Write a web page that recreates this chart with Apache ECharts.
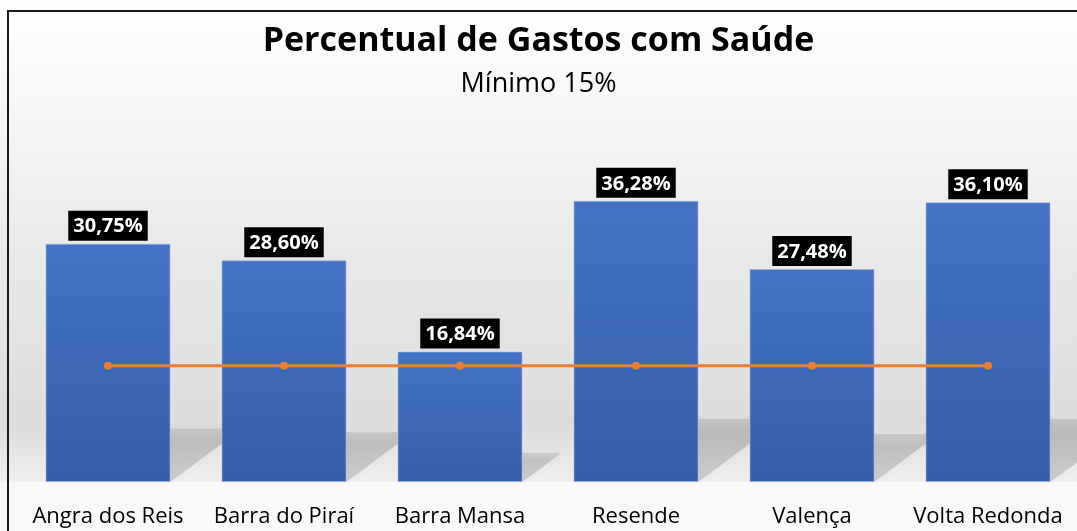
<!DOCTYPE html>
<html>
<head>
<meta charset="utf-8">
<script src="https://cdn.jsdelivr.net/npm/echarts@6/dist/echarts.min.js"></script>
<style>
  html, body { margin: 0; padding: 0; background: #fff; }
  #chart { width: 1077px; height: 531px; }
</style>
</head>
<body>
<div id="chart"></div>
<script>
const municipios = ["Angra dos Reis", "Barra do Piraí", "Barra Mansa", "Resende", "Valença", "Volta Redonda"];
const gastos = [30.75, 28.6, 16.84, 36.28, 27.48, 36.1];
const minimo = [15, 15, 15, 15, 15, 15];

let myChart = echarts.init(document.getElementById("chart"));
const fontFamily = "'Open Sans', sans-serif";
const barWidth = 125;

myChart.setOption({
  backgroundColor: new echarts.graphic.LinearGradient(0, 0, 0, 1, [
    { offset: 0, color: "#ffffff" },
    { offset: 0.2, color: "#f7f7f7" },
    { offset: 0.5, color: "#e8e8e8" },
    { offset: 0.8, color: "#dcdcdc" },
    { offset: 0.906, color: "#eeeeee" },
    { offset: 0.909, color: "#f8f8f8" },
    { offset: 1, color: "#f9f9f9" }
  ]),
  title: [
    {
      text: "Percentual de Gastos com Saúde",
      left: "center",
      top: 19,
      textStyle: { fontFamily: fontFamily, fontSize: 34, fontWeight: "bold", color: "#000" }
    },
    {
      text: "Mínimo 15%",
      left: "center",
      top: 66,
      textStyle: { fontFamily: fontFamily, fontSize: 27, fontWeight: "normal", color: "#000" }
    }
  ],
  graphic: [
    { type: "rect", shape: { x: 7, y: 10, width: 1070, height: 2 }, style: { fill: "#1a1a1a" }, z: 100 },
    { type: "rect", shape: { x: 7, y: 10, width: 2, height: 521 }, style: { fill: "#1a1a1a" }, z: 100 }
  ],
  grid: {
    left: 20,
    right: 1,
    top: 172,
    bottom: 49
  },
  xAxis: {
    type: "category",
    data: municipios,
    axisLine: { show: false },
    axisTick: { show: false },
    axisLabel: {
      interval: 0,
      margin: 24,
      color: "#000",
      fontFamily: fontFamily,
      fontSize: 22
    }
  },
  yAxis: {
    type: "value",
    min: 0,
    max: 40,
    show: false,
    splitLine: { show: false }
  },
  series: [
    {
      // sombra em perspectiva atrás das barras
      type: "custom",
      data: gastos.map((v, i) => [i, v]),
      z: 1,
      silent: true,
      renderItem: function (params, api) {
        let base = api.coord([api.value(0), 0]);
        let top = api.coord([api.value(0), api.value(1)]);
        let h = base[1] - top[1];
        let x0 = base[0] - barWidth / 2;
        let x1 = base[0] + barWidth / 2;
        let dx = h * 0.3;
        let dy = h * 0.225;
        return {
          type: "polygon",
          shape: {
            points: [
              [x0, base[1]],
              [x1, base[1]],
              [x1 + dx, base[1] - dy],
              [x0 + dx, base[1] - dy]
            ]
          },
          style: {
            fill: new echarts.graphic.LinearGradient(0, 0, 0, 1, [
              { offset: 0, color: "rgba(0,0,0,0.10)" },
              { offset: 0.25, color: "rgba(0,0,0,0.15)" },
              { offset: 1, color: "rgba(0,0,0,0.13)" }
            ]),
            shadowBlur: 6,
            shadowColor: "rgba(0,0,0,0.12)"
          }
        };
      }
    },
    {
      type: "bar",
      data: gastos,
      barWidth: barWidth,
      z: 2,
      itemStyle: {
        color: new echarts.graphic.LinearGradient(0, 0, 0, 1, [
          { offset: 0, color: "#4472c4" },
          { offset: 1, color: "#345fa8" }
        ]),
        borderColor: "rgba(160,185,230,0.6)",
        borderWidth: 1
      },
      label: {
        show: true,
        position: "top",
        distance: 3,
        formatter: function (p) {
          return p.value.toFixed(2).replace(".", ",") + "%";
        },
        color: "#fff",
        backgroundColor: "#000",
        fontFamily: fontFamily,
        fontWeight: "bold",
        fontSize: 20,
        padding: [6, 5, 4, 5]
      }
    },
    {
      type: "line",
      data: minimo,
      z: 3,
      symbol: "circle",
      symbolSize: 8,
      lineStyle: { color: "#ed7d31", width: 3 },
      itemStyle: { color: "#ed7d31" }
    }
  ]
});
</script>
</body>
</html>
